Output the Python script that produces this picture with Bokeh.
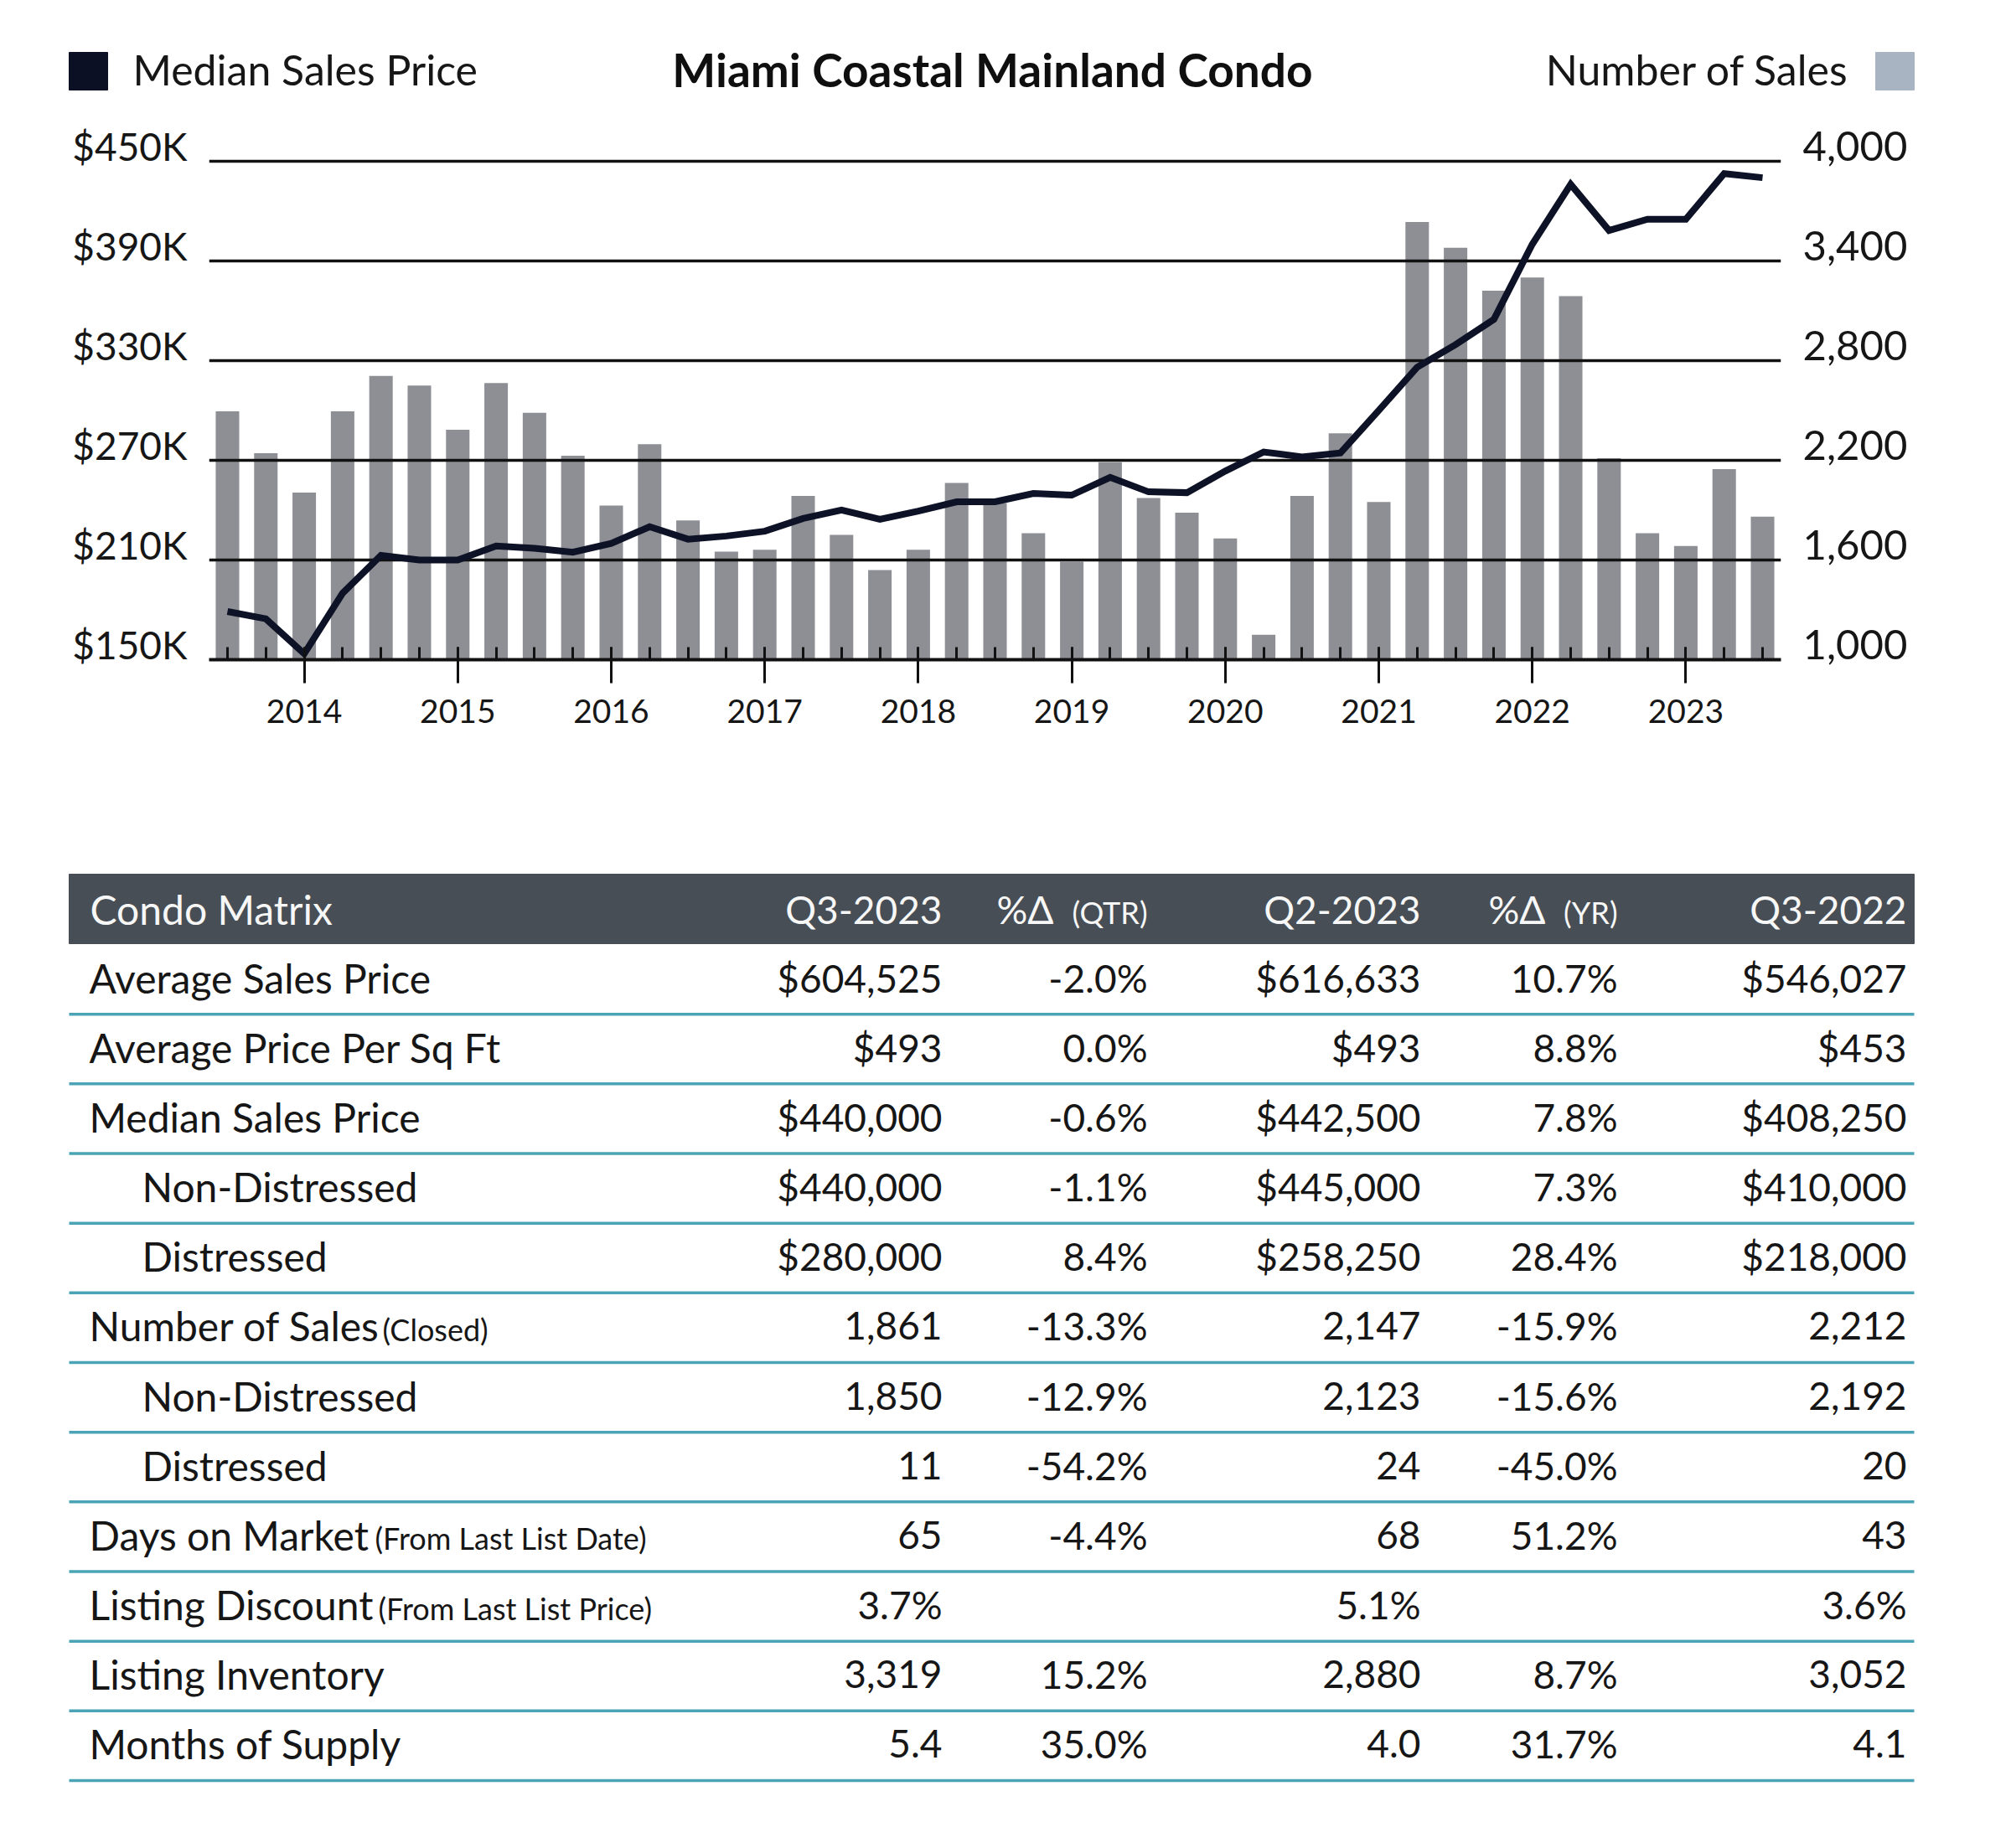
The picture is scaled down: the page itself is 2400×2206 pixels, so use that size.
from bokeh.plotting import figure
from bokeh.models import Range1d, LinearAxis, FixedTicker
from bokeh.layouts import column
from bokeh.embed import file_html
from bokeh.resources import INLINE
from bokeh.core.properties import value

FONT = "Lato"
INK = "#161616"

# ---------------- data ----------------
TITLE = "Miami Coastal Mainland Condo"
LEGEND_PRICE = "Median Sales Price"
LEGEND_SALES = "Number of Sales"

quarters = [
    "2013 Q3", "2013 Q4",
    "2014 Q1", "2014 Q2", "2014 Q3", "2014 Q4",
    "2015 Q1", "2015 Q2", "2015 Q3", "2015 Q4",
    "2016 Q1", "2016 Q2", "2016 Q3", "2016 Q4",
    "2017 Q1", "2017 Q2", "2017 Q3", "2017 Q4",
    "2018 Q1", "2018 Q2", "2018 Q3", "2018 Q4",
    "2019 Q1", "2019 Q2", "2019 Q3", "2019 Q4",
    "2020 Q1", "2020 Q2", "2020 Q3", "2020 Q4",
    "2021 Q1", "2021 Q2", "2021 Q3", "2021 Q4",
    "2022 Q1", "2022 Q2", "2022 Q3", "2022 Q4",
    "2023 Q1", "2023 Q2", "2023 Q3",
]

median_price = [
    179000, 174600,
    153600, 190000, 212800, 210000,
    210000, 218400, 217000, 214700,
    220000, 230000, 222500, 224400,
    227300, 235000, 240000, 234500,
    239400, 245000, 245000, 250000,
    249000, 259700, 251000, 250500,
    263500, 275000, 272000, 274400,
    300000, 326000, 339600, 354800,
    400000, 436000, 408250, 415000,
    415000, 442500, 440000,
]

number_of_sales = [
    2495, 2242,
    2005, 2495, 2708, 2650,
    2384, 2664, 2486, 2227,
    1928, 2297, 1838, 1650,
    1662, 1986, 1751, 1539,
    1662, 2063, 1942, 1761,
    1590, 2188, 1973, 1884,
    1729, 1150, 1986, 2362,
    1949, 3633, 3478, 3220,
    3300, 3188, 2212, 1761,
    1684, 2147, 1861,
]

price_ticks = [150000, 210000, 270000, 330000, 390000, 450000]
sales_ticks = [1000, 1600, 2200, 2800, 3400, 4000]
year_ticks = [2014, 2015, 2016, 2017, 2018, 2019, 2020, 2021, 2022, 2023]

# table
header_labels = ["Condo Matrix", "Q3-2023", "%Δ", "Q2-2023", "%Δ", "Q3-2022"]
header_small = ["", "", "(QTR)", "", "(YR)", ""]

row_labels = [
    "Average Sales Price", "Average Price Per Sq Ft", "Median Sales Price",
    "Non-Distressed", "Distressed", "Number of Sales", "Non-Distressed",
    "Distressed", "Days on Market", "Listing Discount", "Listing Inventory",
    "Months of Supply",
]
row_notes = ["", "", "", "", "", "(Closed)", "", "", "(From Last List Date)",
             "(From Last List Price)", "", ""]
row_indent = [0, 0, 0, 1, 1, 0, 1, 1, 0, 0, 0, 0]
q3_2023 = ["$604,525", "$493", "$440,000", "$440,000", "$280,000", "1,861",
           "1,850", "11", "65", "3.7%", "3,319", "5.4"]
chg_qtr = ["-2.0%", "0.0%", "-0.6%", "-1.1%", "8.4%", "-13.3%", "-12.9%",
           "-54.2%", "-4.4%", "", "15.2%", "35.0%"]
q2_2023 = ["$616,633", "$493", "$442,500", "$445,000", "$258,250", "2,147",
           "2,123", "24", "68", "5.1%", "2,880", "4.0"]
chg_yr = ["10.7%", "8.8%", "7.8%", "7.3%", "28.4%", "-15.9%", "-15.6%",
          "-45.0%", "51.2%", "", "8.7%", "31.7%"]
q3_2022 = ["$546,027", "$453", "$408,250", "$410,000", "$218,000", "2,212",
           "2,192", "20", "43", "3.6%", "3,052", "4.1"]

# ---------------- layout constants ----------------
W = 2384
HDR_H = 133
CHART_H = 827
TABLE_H = 1238


def qpos(label):
    y, q = label.split(" Q")
    return int(y) + (int(q) - 1) * 0.25


xs = [qpos(q) for q in quarters]


def no_align(fig):
    try:
        fig.frame_align = False
    except Exception:
        pass


# ---------------- header (legend + title) ----------------
hdr = figure(width=W, height=HDR_H, x_range=Range1d(0, W), y_range=Range1d(HDR_H, 0),
             x_axis_type=None, y_axis_type=None, output_backend="svg",
             toolbar_location=None, min_border=0, outline_line_color=None, title=None)
no_align(hdr)
hdr.rect(x=[105], y=[84.5], width=[46], height=[45], color="#0b1024")
hdr.rect(x=[2261], y=[84.5], width=[46], height=[45], color="#a9b4c3")
hdr.text(x=[158], y=[82], text=[LEGEND_PRICE], text_align="left", text_baseline="middle",
         text_font=value(FONT), text_font_size="50px", text_color=INK)
hdr.text(x=[2206], y=[82], text=[LEGEND_SALES], text_align="right", text_baseline="middle",
         text_font=value(FONT), text_font_size="50px", text_color=INK)
hdr.text(x=[1184], y=[82], text=[TITLE], text_align="center", text_baseline="middle",
         text_font=value(FONT), text_font_style="bold", text_font_size="55px", text_color="#0f0f0f")

# ---------------- chart ----------------
y_top = 462000
p = figure(width=W, height=CHART_H,
           x_range=Range1d(2013.38, 2023.62), y_range=Range1d(150000, y_top),
           output_backend="svg", toolbar_location=None, title=None,
           min_border_left=249, min_border_right=W - 2125, min_border_top=35, min_border_bottom=173,
           outline_line_color=None)
no_align(p)
p.extra_y_ranges = {"sales": Range1d(1000, 1000 + (y_top - 150000) / 100)}

bars = p.vbar(x=xs, top=number_of_sales, bottom=1000, width=0.153, y_range_name="sales",
              fill_color="#8e8f95", line_color=None)
bars.level = "image"
p.line(x=xs, y=median_price, line_width=8, line_color="#0e1226", line_join="miter")

p.xgrid.visible = False
p.ygrid.ticker = FixedTicker(ticks=price_ticks)
p.ygrid.grid_line_color = "#111111"
p.ygrid.grid_line_width = 3.5

# left axis (labels sit slightly above their grid lines)
off_p = 9000
ly = p.yaxis[0]
ly.ticker = FixedTicker(ticks=[t + off_p for t in price_ticks])
ly.major_label_overrides = {t + off_p: "${}K".format(t // 1000) for t in price_ticks}
ly.axis_line_color = None
ly.major_tick_line_color = None
ly.minor_tick_line_color = None
ly.major_label_standoff = 20
ly.major_label_text_font = FONT
ly.major_label_text_font_size = "46px"
ly.major_label_text_color = INK

off_s = 90
ry = LinearAxis(y_range_name="sales",
                ticker=FixedTicker(ticks=[t + off_s for t in sales_ticks]),
                major_label_overrides={t + off_s: "{:,}".format(t) for t in sales_ticks})
ry.axis_line_color = None
ry.major_tick_line_color = None
ry.minor_tick_line_color = None
ry.major_label_standoff = 20
ry.major_label_text_font = FONT
ry.major_label_text_font_size = "49px"
ry.major_label_text_color = INK
p.add_layout(ry, "right")

xa = p.xaxis[0]
xa.ticker = FixedTicker(ticks=year_ticks, minor_ticks=xs)
xa.major_label_overrides = {y: str(y) for y in year_ticks}
xa.axis_line_color = "#111111"
xa.axis_line_width = 4
xa.major_tick_line_color = "#111111"
xa.major_tick_line_width = 3
xa.major_tick_in = 15
xa.major_tick_out = 28
xa.minor_tick_line_color = "#111111"
xa.minor_tick_line_width = 3
xa.minor_tick_in = 15
xa.minor_tick_out = 0
xa.major_label_standoff = 19
xa.major_label_text_font = FONT
xa.major_label_text_font_size = "39px"
xa.major_label_text_color = INK

# ---------------- table ----------------
T0 = HDR_H + CHART_H
t = figure(width=W, height=TABLE_H, x_range=Range1d(0, W),
           y_range=Range1d(T0 + TABLE_H, T0),
           x_axis_type=None, y_axis_type=None, output_backend="svg",
           toolbar_location=None, min_border=0, outline_line_color=None, title=None)
no_align(t)

left, right = 82, 2284
head_top, head_bot = 1043, 1126
row_h = (2125 - 1127) / len(row_labels)
t.quad(left=[left], right=[right], top=[head_top], bottom=[head_bot], color="#474e55")

col_right = [1124, 1369, 1695, 1930, 2275]
head_big_right = [1124, 1257, 1695, 1844, 2275]
head_mid = (head_top + head_bot) / 2

t.text(x=[107], y=[head_mid], text=[header_labels[0]], text_align="left", text_baseline="middle",
       text_font=value(FONT), text_font_size="48px", text_color="#f7f7f7")
for i in range(1, 6):
    if header_small[i]:
        t.text(x=[col_right[i - 1]], y=[head_mid + 4], text=[header_small[i]], text_align="right",
               text_baseline="middle", text_font=value(FONT), text_font_size="36px",
               text_color="#f7f7f7")
    t.text(x=[head_big_right[i - 1]], y=[head_mid], text=[header_labels[i]], text_align="right",
           text_baseline="middle", text_font=value(FONT), text_font_size="46px",
           text_color="#f7f7f7")

row_mid = [1127 + row_h * (k + 0.5) - 2 for k in range(len(row_labels))]
seps = [1127 + row_h * (k + 1) for k in range(len(row_labels))]
t.segment(x0=[left] * len(seps), x1=[right] * len(seps), y0=seps, y1=seps,
          line_color="#4aa4b5", line_width=3.5)

label_x = [106 + 63 * ind for ind in row_indent]
t.text(x=label_x, y=row_mid, text=row_labels, text_align="left", text_baseline="middle",
       text_font=value(FONT), text_font_size="48px", text_color=INK)

note_x = {"(Closed)": 456, "(From Last List Date)": 447, "(From Last List Price)": 451}
nx = [note_x[n] for n in row_notes if n]
ny = [row_mid[k] + 4 for k, n in enumerate(row_notes) if n]
nt = [n for n in row_notes if n]
t.text(x=nx, y=ny, text=nt, text_align="left", text_baseline="middle",
       text_font=value(FONT), text_font_size="36px", text_color=INK)

for xr, col in zip(col_right, [q3_2023, chg_qtr, q2_2023, chg_yr, q3_2022]):
    t.text(x=[xr] * len(col), y=row_mid, text=col, text_align="right", text_baseline="middle",
           text_font=value(FONT), text_font_size="46px", text_color=INK)

layout = column(hdr, p, t)
open("out.html", "w").write(file_html(layout, INLINE))
